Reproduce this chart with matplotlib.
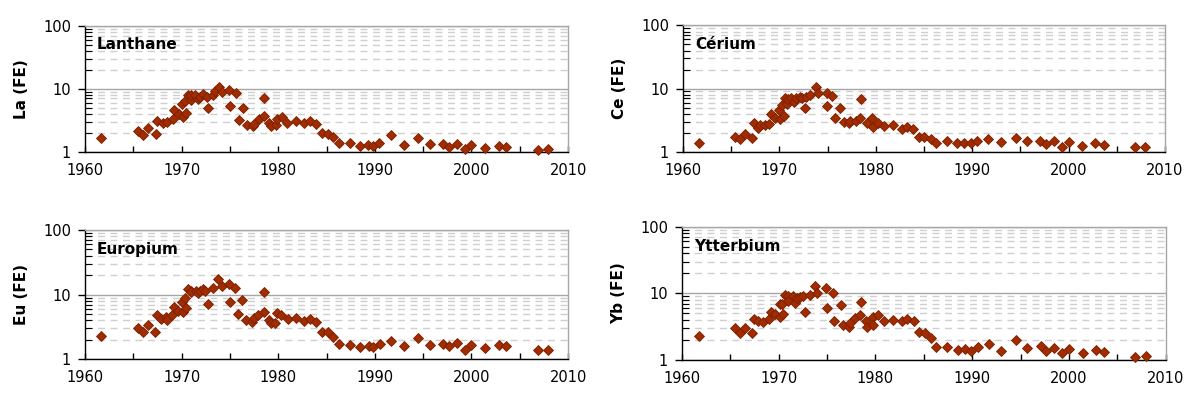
import matplotlib
matplotlib.use("Agg")
import matplotlib.pyplot as plt
from matplotlib.ticker import FixedLocator, NullFormatter, LogLocator

# ---------------- data ----------------
la_years = [1961.7, 1965.45, 1966.0, 1966.55, 1967.3, 1967.5, 1968.1, 1968.45, 1969.1, 1969.25,
            1969.7, 1970.0, 1970.1, 1970.3, 1970.45, 1970.7, 1970.97, 1971.0, 1971.4, 1971.65,
            1971.9, 1972.25, 1972.6, 1972.75, 1973.3, 1973.45, 1973.87, 1974.2, 1974.95, 1975.0,
            1975.6, 1975.9, 1976.4, 1976.8, 1977.35, 1977.5, 1977.97, 1978.5, 1978.5, 1979.05,
            1979.3, 1979.8, 1979.85, 1980.4, 1980.9, 1981.8, 1982.7, 1983.3, 1983.9, 1984.55,
            1985.2, 1985.7, 1986.3, 1987.45, 1988.5, 1989.25, 1989.85, 1990.45, 1991.65, 1993.0,
            1994.5, 1995.7, 1997.1, 1997.7, 1998.55, 1999.3, 1999.95, 2001.4, 2002.8, 2003.6,
            2006.85, 2007.95]
la_values = [1.63, 2.15, 1.84, 2.35, 1.91, 3.07, 2.89, 3.0, 3.27, 4.6,
             3.97, 5.7, 3.6, 6.45, 4.07, 7.9, 6.6, 7.9, 7.9, 6.8,
             7.5, 8.15, 7.5, 4.9, 8.0, 9.2, 10.8, 8.8, 9.5, 5.3,
             8.6, 3.2, 5.0, 2.65, 2.59, 2.8, 3.3, 7.0, 3.7, 2.9,
             2.6, 2.65, 3.3, 3.5, 2.9, 3.1, 2.82, 3.07, 2.75, 2.0,
             1.89, 1.69, 1.39, 1.36, 1.24, 1.26, 1.25, 1.36, 1.84, 1.26,
             1.63, 1.32, 1.32, 1.2, 1.32, 1.09, 1.26, 1.16, 1.25, 1.17,
             1.05, 1.1]

ce_years = [1961.63, 1965.37, 1965.96, 1966.44, 1967.2, 1967.37, 1967.8, 1968.0, 1968.5, 1968.93,
            1969.1, 1969.5, 1969.97, 1970.1, 1970.3, 1970.46, 1970.56, 1970.84, 1970.9, 1971.25,
            1971.5, 1971.75, 1972.1, 1972.3, 1972.64, 1972.8, 1973.15, 1973.78, 1974.0, 1974.9,
            1974.9, 1975.47, 1975.75, 1976.34, 1976.7, 1977.25, 1977.3, 1977.9, 1978.35, 1978.5,
            1979.05, 1979.6, 1979.7, 1980.25, 1980.84, 1981.8, 1982.67, 1983.26, 1983.9, 1984.5,
            1985.03, 1985.7, 1986.3, 1987.35, 1988.45, 1989.18, 1989.85, 1990.5, 1991.67, 1993.0,
            1994.5, 1995.66, 1997.04, 1997.63, 1998.5, 1999.3, 2000.0, 2001.43, 2002.75, 2003.69,
            2006.9, 2007.96]
ce_values = [1.39, 1.69, 1.57, 1.9, 1.65, 2.8, 2.34, 2.64, 2.64, 2.74,
             3.9, 3.44, 4.56, 3.25, 5.47, 3.66, 6.97, 5.66, 6.8, 7.2,
             6.2, 7.2, 7.4, 7.2, 4.96, 7.4, 7.8, 10.6, 8.55, 8.55,
             5.33, 7.7, 3.37, 4.96, 2.98, 2.8, 3.1, 3.05, 3.37, 6.8,
             2.8, 3.37, 2.43, 2.85, 2.54, 2.65, 2.3, 2.45, 2.3, 1.69,
             1.69, 1.59, 1.37, 1.46, 1.37, 1.37, 1.36, 1.49, 1.6, 1.41,
             1.66, 1.45, 1.45, 1.34, 1.45, 1.17, 1.41, 1.25, 1.35, 1.28,
             1.2, 1.2]

eu_years = [1961.7, 1965.5, 1966.0, 1966.5, 1967.25, 1967.5, 1967.85, 1968.4, 1968.45, 1969.05,
            1969.25, 1969.65, 1970.0, 1970.1, 1970.35, 1970.45, 1970.7, 1970.95, 1971.0, 1971.5,
            1971.65, 1971.9, 1972.25, 1972.4, 1972.75, 1973.3, 1973.8, 1974.15, 1974.9, 1975.0,
            1975.5, 1975.85, 1976.3, 1976.7, 1977.3, 1977.45, 1977.95, 1978.5, 1978.55, 1979.05,
            1979.3, 1979.65, 1979.85, 1980.3, 1980.97, 1981.8, 1982.7, 1983.3, 1983.9, 1984.5,
            1985.1, 1985.7, 1986.3, 1987.45, 1988.5, 1989.35, 1989.85, 1990.55, 1991.7, 1993.0,
            1994.5, 1995.7, 1997.1, 1997.7, 1998.5, 1999.3, 1999.95, 2001.4, 2002.8, 2003.6,
            2006.85, 2007.9]
eu_values = [2.32, 3.01, 2.62, 3.4, 2.67, 4.85, 4.15, 4.5, 4.1, 4.85,
             6.5, 5.6, 7.8, 5.3, 9.0, 6.3, 12.2, 11.4, 10.9, 11.4,
             10.5, 11.2, 12.0, 11.2, 7.1, 12.8, 17.3, 13.6, 14.6, 7.8,
             12.8, 4.97, 8.1, 4.05, 3.73, 4.3, 4.9, 5.3, 10.9, 4.05,
             3.7, 3.6, 5.1, 4.9, 4.15, 4.3, 3.95, 4.2, 3.8, 2.67,
             2.6, 2.24, 1.73, 1.68, 1.55, 1.6, 1.55, 1.73, 1.92, 1.58,
             2.11, 1.69, 1.73, 1.62, 1.78, 1.39, 1.68, 1.5, 1.69, 1.58,
             1.38, 1.38]

yb_years = [1961.8, 1965.5, 1966.0, 1966.55, 1967.24, 1967.5, 1967.9, 1968.4, 1968.95, 1969.2,
            1969.6, 1970.1, 1970.15, 1970.3, 1970.4, 1970.7, 1970.95, 1971.0, 1971.5, 1971.65,
            1971.9, 1972.25, 1972.55, 1972.7, 1973.27, 1973.8, 1974.0, 1974.9, 1975.0, 1975.57,
            1975.75, 1976.45, 1976.7, 1977.23, 1977.4, 1977.85, 1978.45, 1978.5, 1979.0, 1979.1,
            1979.7, 1979.72, 1980.3, 1980.9, 1981.8, 1982.7, 1983.27, 1983.95, 1984.47, 1985.1,
            1985.75, 1986.27, 1987.4, 1988.5, 1989.3, 1989.92, 1990.57, 1991.7, 1993.0, 1994.5,
            1995.67, 1997.1, 1997.6, 1998.5, 1999.33, 2000.0, 2001.47, 2002.8, 2003.67, 2006.88,
            2007.98]
yb_values = [2.29, 2.99, 2.57, 3.05, 2.51, 4.07, 3.8, 3.7, 4.1, 5.3,
             4.9, 4.4, 6.9, 7.0, 4.9, 9.4, 9.1, 7.7, 9.2, 7.2,
             8.6, 8.8, 9.2, 5.3, 9.4, 12.9, 10.0, 11.9, 6.0, 10.0,
             3.85, 6.7, 3.35, 3.09, 3.6, 4.3, 4.8, 7.5, 3.85, 3.09,
             4.4, 3.3, 4.7, 3.85, 4.0, 3.8, 4.07, 3.8, 2.6, 2.51,
             2.11, 1.55, 1.55, 1.41, 1.48, 1.38, 1.56, 1.72, 1.38, 2.0,
             1.5, 1.62, 1.36, 1.5, 1.26, 1.46, 1.26, 1.43, 1.3, 1.12,
             1.15]

panels = [
    ("Lanthane", "La (FE)", la_years, la_values),
    ("Cérium", "Ce (FE)", ce_years, ce_values),
    ("Europium", "Eu (FE)", eu_years, eu_values),
    ("Ytterbium", "Yb (FE)", yb_years, yb_values),
]
x_ticks = [1960, 1970, 1980, 1990, 2000, 2010]
y_ticks = [1, 10, 100]
y_ticklabels = ["1", "10", "100"]

# ---------------- figure ----------------
plt.rcParams['font.family'] = ['DejaVu Sans']
fig = plt.figure(figsize=(11.87, 3.97), dpi=100)

positions = [
    [0.0716, 0.618, 0.407, 0.317],
    [0.5754, 0.618, 0.406, 0.318],
    [0.0716, 0.095, 0.407, 0.326],
    [0.5745, 0.093, 0.4075, 0.336],
]

fill = "#A02C00"
edge = "#7A1E00"
grid_major = "#A6A6A6"
grid_minor = "#CFCFCF"

for (title, ylabel, xs, ys), pos in zip(panels, positions):
    ax = fig.add_axes(pos)
    ax.set_yscale("log")
    ax.set_xlim(1960, 2010)
    ax.set_ylim(1, 100)

    ax.yaxis.set_major_locator(FixedLocator(y_ticks))
    ax.set_yticklabels(y_ticklabels)
    ax.yaxis.set_minor_locator(LogLocator(base=10, subs=range(2, 10)))
    ax.yaxis.set_minor_formatter(NullFormatter())
    ax.set_xticks(x_ticks)
    ax.set_xticks(range(1965, 2010, 10), minor=True)

    ax.grid(True, which="major", axis="y", color=grid_major, lw=1.0, zorder=0)
    ax.grid(True, which="minor", axis="y", color=grid_minor, lw=1.0,
            linestyle=(0, (5, 4)), zorder=0)

    ax.tick_params(axis="y", which="major", direction="out", length=5, width=1,
                   labelsize=10.5, pad=5)
    ax.tick_params(axis="y", which="minor", direction="in", length=5, width=0.8)
    ax.tick_params(axis="x", which="both", direction="in", length=4, width=1,
                   labelsize=10.5, pad=8)

    for s in ("top", "right"):
        ax.spines[s].set_color(grid_major)
        ax.spines[s].set_linewidth(1.0)
    for s in ("left", "bottom"):
        ax.spines[s].set_color("black")
        ax.spines[s].set_linewidth(1.0)

    ax.plot(xs, ys, linestyle="none", marker="D", markersize=5.0,
            markerfacecolor=fill, markeredgecolor=edge, markeredgewidth=0.6,
            zorder=3, clip_on=False)

    ax.text(0.025, 0.85, title, transform=ax.transAxes, fontsize=11,
            fontweight="bold", ha="left", va="center")
    ax.set_ylabel(ylabel, fontsize=11, fontweight="bold", labelpad=10)

fig.savefig("out.png", dpi=100)
